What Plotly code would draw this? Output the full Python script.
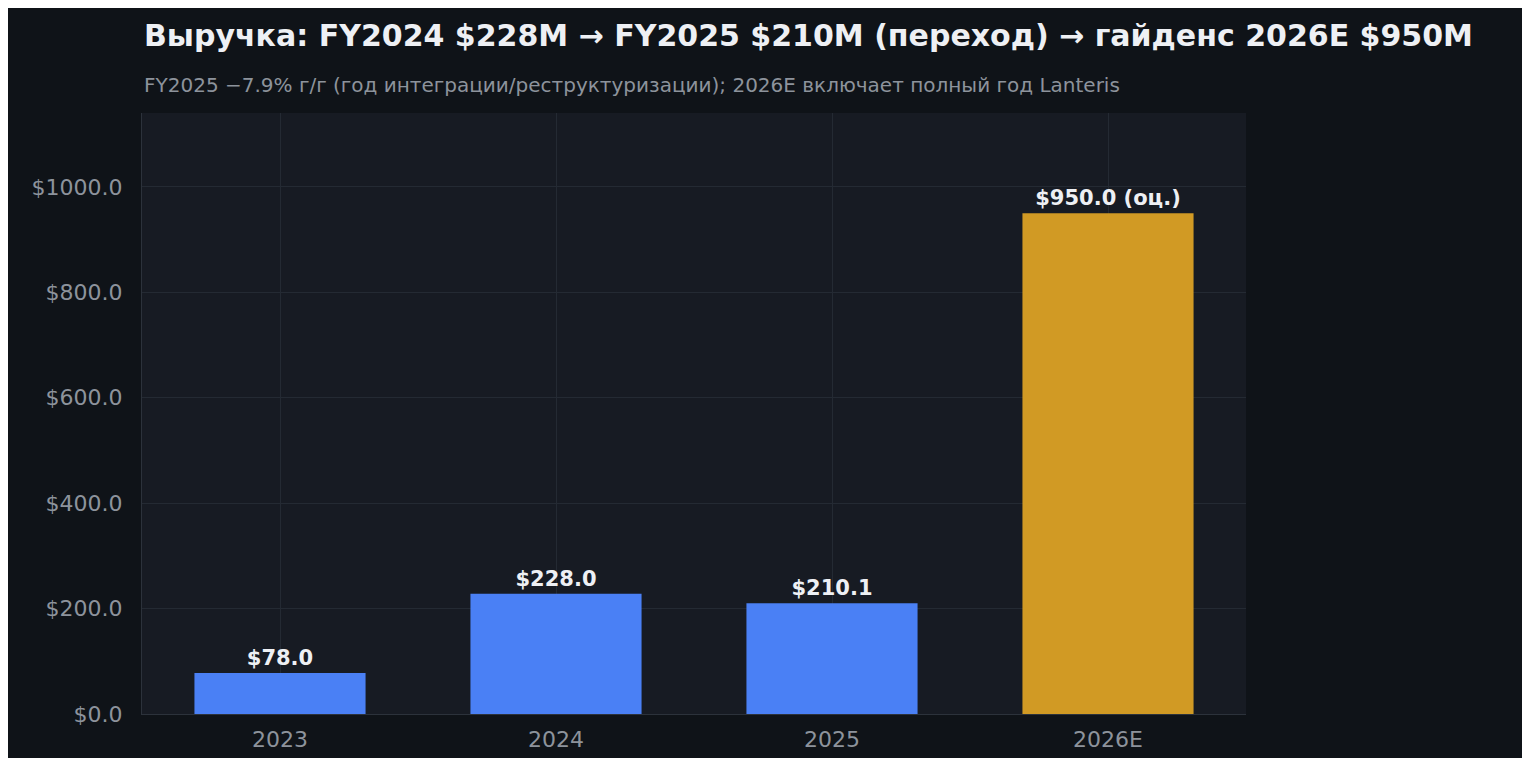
import plotly.graph_objects as go

categories = ["2023", "2024", "2025", "2026E"]
values = [78.0, 228.0, 210.1, 950.0]
labels = ["$78.0", "$228.0", "$210.1", "$950.0 (оц.)"]
colors = ["#4a80f5", "#4a80f5", "#4a80f5", "#d19a24"]

fig = go.Figure(go.Bar(
    x=categories, y=values, marker_color=colors, marker_line_width=0,
    text=labels, textposition="outside", cliponaxis=False, width=0.62,
    textfont=dict(family="DejaVu Sans", size=21, color="#eef0f4", weight="bold"),
))
fig.update_layout(
    width=1530, height=758,
    paper_bgcolor="#0f1318", plot_bgcolor="#171b23",
    margin=dict(l=134, r=292, t=105, b=52),
    font=dict(family="DejaVu Sans", color="#8d939c", size=22),
    showlegend=False,
    annotations=[
        dict(text="<b>Выручка: FY2024 $228M → FY2025 $210M (переход) → гайденс 2026E $950M</b>",
             xref="paper", yref="paper", x=0, y=1, xanchor="left", yanchor="bottom",
             yshift=58, showarrow=False, font=dict(size=30, color="#eef0f4")),
        dict(text="FY2025 −7.9% г/г (год интеграции/реструктуризации); 2026E включает полный год Lanteris",
             xref="paper", yref="paper", x=0, y=1, xanchor="left", yanchor="bottom",
             yshift=14, showarrow=False, font=dict(size=20, color="#8d939c")),
    ],
)
fig.update_yaxes(range=[0, 1140], tickvals=[0, 200, 400, 600, 800, 1000],
                 ticktext=["$0.0", "$200.0", "$400.0", "$600.0", "$800.0", "$1000.0"],
                 gridcolor="#242a33", zeroline=False, showline=True, linecolor="#2c323b",
                 ticks="outside", ticklen=14, tickcolor="rgba(0,0,0,0)")
fig.update_xaxes(showgrid=True, gridcolor="#242a33", showline=True, linecolor="#2c323b",
                 ticks="outside", ticklen=6, tickcolor="rgba(0,0,0,0)")
fig.write_html("out.html")
